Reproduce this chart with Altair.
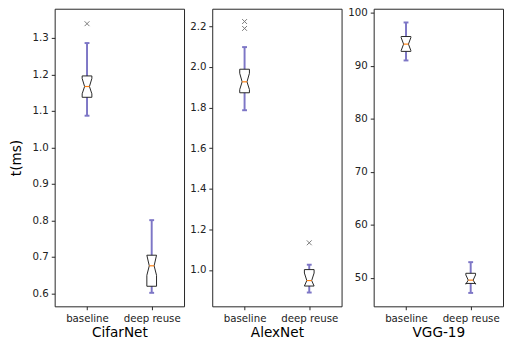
import altair as alt
import pandas as pd

models = ["CifarNet", "AlexNet", "VGG-19"]
groups = ["baseline", "deep reuse"]
positions = [1, 2]

whisk_lo = [[1.087, 0.602], [1.787, 0.889], [90.99, 47.16]]
q1 = [[1.1375, 0.620], [1.873, 0.921], [92.7, 48.95]]
notch_lo = [[1.147, 0.650], [1.889, 0.921], [92.85, 48.80]]
med = [[1.167, 0.676], [1.927, 0.948], [94.07, 49.57]]
notch_hi = [[1.189, 0.705], [1.969, 0.985], [95.30, 50.55]]
q3 = [[1.196, 0.705], [1.989, 1.002], [95.5, 50.86]]
whisk_hi = [[1.286, 0.801], [2.098, 1.026], [98.15, 52.96]]
fliers = [[[1.339], []], [[2.224, 2.190], [1.134]], [[], []]]

y_domains = [[0.565, 1.38], [0.821, 2.287], [44.63, 100.74]]
y_ticks = [[0.6, 0.7, 0.8, 0.9, 1.0, 1.1, 1.2, 1.3],
           [1.0, 1.2, 1.4, 1.6, 1.8, 2.0, 2.2],
           [50, 60, 70, 80, 90, 100]]
y_formats = [".1f", ".1f", "d"]

HALF = 0.075  # half box width in x data units (matplotlib widths=0.15)
WHISKER = "#7d76c6"
MEDIAN = "#ff7f0e"
FLIER = "#777777"
INK = "#222222"

label_expr = " : ".join(
    [f"datum.value == {p} ? '{g}'" for p, g in zip(positions, groups)]
) + " : ''"


def panel(i):
    poly_rows, whisk_rows, cap_rows, med_rows, flier_rows = [], [], [], [], []
    for j, p in enumerate(positions):
        verts = [(-1, q3[i][j]), (-1, notch_hi[i][j]), (-0.5, med[i][j]),
                 (-1, notch_lo[i][j]), (-1, q1[i][j]), (1, q1[i][j]),
                 (1, notch_lo[i][j]), (0.5, med[i][j]), (1, notch_hi[i][j]),
                 (1, q3[i][j]), (-1, q3[i][j])]
        for k, (dx, v) in enumerate(verts):
            poly_rows.append({"box": j, "o": k, "x": p + dx * HALF, "y": v})
        whisk_rows.append({"x": p, "y": q3[i][j], "y2": whisk_hi[i][j]})
        whisk_rows.append({"x": p, "y": q1[i][j], "y2": whisk_lo[i][j]})
        for v in (whisk_lo[i][j], whisk_hi[i][j]):
            cap_rows.append({"x": p - HALF / 2, "x2": p + HALF / 2, "y": v})
        med_rows.append({"x": p - HALF / 2, "x2": p + HALF / 2, "y": med[i][j]})
        for f in fliers[i][j]:
            flier_rows.append({"x": p, "y": f})

    xs = alt.Scale(domain=[0.5, 2.5], nice=False, zero=False)
    ys = alt.Scale(domain=y_domains[i], nice=False, zero=False)
    xaxis = alt.Axis(values=positions, labelExpr=label_expr, title=models[i],
                     grid=False, domain=False)
    yaxis = alt.Axis(values=y_ticks[i], format=y_formats[i], grid=False,
                     domain=False, title="t(ms)" if i == 0 else None,
                     minExtent=23 if i > 0 else 29,
                     maxExtent=23 if i > 0 else 29)

    X = alt.X("x:Q", scale=xs, axis=xaxis)
    Y = alt.Y("y:Q", scale=ys, axis=yaxis)

    whisk = alt.Chart(pd.DataFrame(whisk_rows)).mark_rule(
        color=WHISKER, strokeWidth=2).encode(x=X, y=Y, y2="y2:Q")
    caps = alt.Chart(pd.DataFrame(cap_rows)).mark_rule(
        color=WHISKER, strokeWidth=2).encode(x=X, x2="x2:Q", y=Y)
    box = alt.Chart(pd.DataFrame(poly_rows)).mark_line(
        color=INK, strokeWidth=1, interpolate="linear").encode(
        x=X, y=Y, detail="box:N", order="o:Q")
    meds = alt.Chart(pd.DataFrame(med_rows)).mark_rule(
        color=MEDIAN, strokeWidth=1.2).encode(x=X, x2="x2:Q", y=Y)
    layers = [whisk, caps, box, meds]
    if flier_rows:
        fl = alt.Chart(pd.DataFrame(flier_rows)).mark_point(
            shape="M-1,-1L1,1M-1,1L1,-1", filled=False, color=FLIER,
            size=25, strokeWidth=1, opacity=1).encode(x=X, y=Y)
        layers.append(fl)
    return alt.layer(*layers).properties(width=133, height=306)


chart = alt.hconcat(*[panel(i) for i in range(3)], spacing=4).properties(
    padding={"left": 1, "top": -6, "right": 0, "bottom": 0}
).configure_view(stroke=INK, strokeWidth=1).configure_axis(
    labelFont="DejaVu Sans", titleFont="DejaVu Sans", labelFontSize=10.5,
    titleFontSize=14, titleFontWeight="normal", labelColor=INK,
    titleColor="#000000", tickColor=INK, tickSize=3.5, labelPadding=3,
    titlePadding=3
).configure_axisX(labelPadding=4, titlePadding=2)

chart.save("out.html", embed_options={"renderer": "svg", "actions": False})
